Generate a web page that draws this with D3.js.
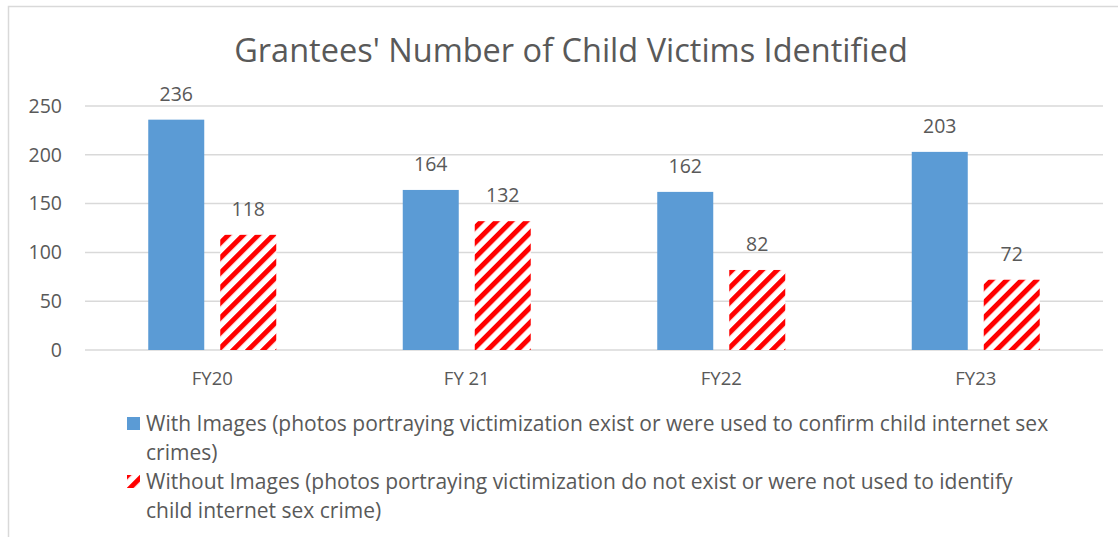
<!DOCTYPE html>
<html>
<head>
<script src="https://cdnjs.cloudflare.com/ajax/libs/d3/7.8.5/d3.min.js"></script>
<style>
  body { margin: 0; background: #fff; }
  text { font-family: "Open Sans", sans-serif; fill: #595959; }
  .grid line { stroke: #d9d9d9; stroke-width: 1.5px; }
</style>
</head>
<body>
<script>
// chart values
var categories = ["FY20", "FY 21", "FY22", "FY23"];
var series = ["With Images", "Without Images"];
var withImages = [236, 164, 162, 203];
var withoutImages = [118, 132, 82, 72];
var yTicks = [0, 50, 100, 150, 200, 250];
var legendLines = [
  ["With Images (photos portraying victimization exist or were used to confirm child internet sex",
   "crimes)"],
  ["Without Images (photos portraying victimization do not exist or were not used to identify",
   "child internet sex crime)"]
];

var W = 1118, H = 537;
var svg = d3.select("body").append("svg")
    .attr("width", W)
    .attr("height", H);

// hatch pattern for second series
var defs = svg.append("defs");
var pat = defs.append("pattern")
    .attr("id", "hatch")
    .attr("patternUnits", "userSpaceOnUse")
    .attr("width", 10.6)
    .attr("height", 10.6)
    .attr("patternTransform", "rotate(45)");
pat.append("rect").attr("width", 10.6).attr("height", 10.6).attr("fill", "#fff");
pat.append("rect").attr("x", 0).attr("y", 0).attr("width", 5).attr("height", 10.6).attr("fill", "#ff0000");

// outer frame
svg.append("rect")
    .attr("x", 8.5).attr("y", 6.5)
    .attr("width", W + 10).attr("height", H + 10)
    .attr("fill", "none")
    .attr("stroke", "#d9d9d9")
    .attr("stroke-width", 1.5);

var x0 = d3.scaleBand()
    .domain(categories)
    .range([85, 1103]);

var x1 = d3.scaleBand()
    .domain(series)
    .range([(x0.bandwidth() - 128) / 2, (x0.bandwidth() + 128) / 2])
    .paddingInner(2 - 128 / 72);

var y = d3.scaleLinear()
    .domain([0, 250])
    .range([350, 106]);

// title
svg.append("text")
    .attr("x", 571)
    .attr("y", 62)
    .attr("text-anchor", "middle")
    .style("font-size", "32.5px")
    .text("Grantees' Number of Child Victims Identified");

// gridlines
svg.append("g")
    .attr("class", "grid")
    .selectAll("line")
    .data(yTicks)
    .enter().append("line")
    .attr("x1", 85).attr("x2", 1103)
    .attr("y1", function(d) { return y(d); })
    .attr("y2", function(d) { return y(d); });

// y axis labels
var yAxis = svg.append("g")
    .attr("transform", "translate(85,0)")
    .call(d3.axisLeft(y).tickValues(yTicks).tickSize(0).tickPadding(23));
yAxis.select(".domain").remove();
yAxis.selectAll("text")
    .style("font-size", "19.5px")
    .style("font-family", "'Open Sans', sans-serif")
    .attr("fill", "#595959");

// x axis labels
var xAxis = svg.append("g")
    .attr("transform", "translate(0,350)")
    .call(d3.axisBottom(x0).tickSize(0).tickPadding(22));
xAxis.select(".domain").remove();
xAxis.selectAll("text")
    .style("font-size", "18.5px")
    .style("font-family", "'Open Sans', sans-serif")
    .attr("fill", "#595959");

// bars
var rows = categories.map(function(c, i) {
  return { cat: c, vals: [
    { key: series[0], value: withImages[i] },
    { key: series[1], value: withoutImages[i] }
  ]};
});

var groups = svg.selectAll(".cat")
    .data(rows)
    .enter().append("g")
    .attr("class", "cat")
    .attr("transform", function(d) { return "translate(" + x0(d.cat) + ",0)"; });

groups.selectAll("rect")
    .data(function(d) { return d.vals; })
    .enter().append("rect")
    .attr("x", function(d) { return x1(d.key); })
    .attr("y", function(d) { return y(d.value); })
    .attr("width", x1.bandwidth())
    .attr("height", function(d) { return y(0) - y(d.value); })
    .attr("fill", function(d) { return d.key === series[0] ? "#5b9bd5" : "url(#hatch)"; });

groups.selectAll(".lbl")
    .data(function(d) { return d.vals; })
    .enter().append("text")
    .attr("class", "lbl")
    .attr("x", function(d) { return x1(d.key) + x1.bandwidth() / 2; })
    .attr("y", function(d) { return y(d.value) - 19; })
    .attr("text-anchor", "middle")
    .style("font-size", "19.5px")
    .text(function(d) { return d.value; });

// legend
var leg = svg.append("g");
legendLines.forEach(function(lines, i) {
  var top = 423 + i * 58;
  leg.append("rect")
      .attr("x", 127).attr("y", top - 6)
      .attr("width", 13).attr("height", 13)
      .attr("fill", i === 0 ? "#5b9bd5" : "url(#hatch)");
  lines.forEach(function(t, j) {
    leg.append("text")
        .attr("x", 146)
        .attr("y", top + j * 29 + 8)
        .style("font-size", "21px")
        .text(t);
  });
});
</script>
</body>
</html>
